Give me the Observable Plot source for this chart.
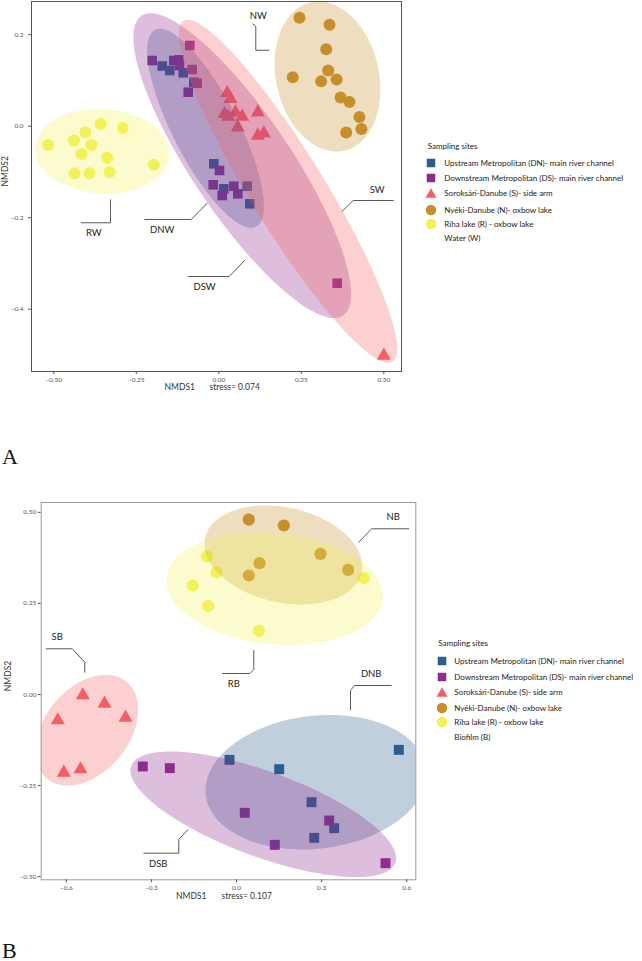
<!DOCTYPE html>
<html><head><meta charset="utf-8">
<script src="https://cdn.jsdelivr.net/npm/d3@7"></script>
<script src="https://cdn.jsdelivr.net/npm/@observablehq/plot@0.6"></script>
<style>
body{margin:0;background:#fff;}
#wrap{position:relative;width:642px;height:961px;overflow:hidden;font-family:Lato,"Open Sans",sans-serif;background:#fff;}
.pl{position:absolute;left:0;}
.letter{position:absolute;left:2px;font-family:"Liberation Serif","DejaVu Serif",serif;font-size:22px;line-height:22px;color:#111;}
.lg{position:absolute;font-size:8px;line-height:10px;color:#222;white-space:nowrap;}
.lg svg{position:absolute;}
</style></head><body><div id="wrap"></div>
<script>
// ---------------- shared categories ----------------
const groups = ["DN", "DS", "S", "N", "R"];
const groupLabels = [
  "Upstream Metropolitan (DN)- main river channel",
  "Downstream Metropolitan (DS)- main river channel",
  "Soroksári-Danube (S)- side arm",
  "Nyéki-Danube (N)- oxbow lake",
  "Riha lake (R) - oxbow lake"
];
const groupSymbols = ["square", "square", "triangle", "circle", "circle"];
const groupColors = ["#2D5D8E", "#8E2C8E", "#F55F63", "#C8902C", "#F3F158"];
const legendTitle = "Sampling sites";

// ---------------- Panel A : Water ----------------
const A_DN_x = [-0.1715, -0.1485, -0.1079, -0.0758, -0.0152, 0.0152, 0.0861, 0.0939];
const A_DN_y = [0.1316, 0.1217, 0.1167, 0.0962, -0.0822, -0.1368, -0.1311, -0.1696];
const A_DS_x = [-0.0879, -0.2018, -0.1364, -0.1212, -0.1191, -0.0806, -0.0655, -0.0927, 0.0021, -0.0170, 0.0103, 0.0455, 0.0576, 0.3588];
const A_DS_y = [0.1764, 0.1436, 0.1436, 0.1451, 0.1327, 0.1239, 0.0940, 0.0743, -0.0968, -0.1281, -0.1515, -0.1311, -0.1478, -0.3432];
const A_S_x = [0.0255, 0.0355, 0.0173, 0.0285, 0.0506, 0.0709, 0.0576, 0.1182, 0.1182, 0.1364, 0.5000];
const A_S_y = [0.0725, 0.0594, 0.0266, 0.0209, 0.0303, 0.0209, -0.0025, 0.0303, -0.0206, -0.0156, -0.5015];
const A_N_x = [0.2445, 0.3355, 0.3255, 0.3315, 0.2240, 0.3100, 0.3570, 0.3690, 0.3960, 0.4260, 0.4320, 0.3860];
const A_N_y = [0.2370, 0.2220, 0.1680, 0.1220, 0.1070, 0.0980, 0.1020, 0.0630, 0.0530, 0.0200, -0.0060, -0.0140];
const A_R_x = [-0.517, -0.439, -0.404, -0.358, -0.291, -0.386, -0.416, -0.338, -0.197, -0.437, -0.392, -0.331];
const A_R_y = [-0.041, -0.031, -0.013, 0.005, -0.004, -0.041, -0.061, -0.069, -0.084, -0.103, -0.103, -0.100];
// ellipses: centre + two conjugate semi-axis vectors (data units), order DN, DS, S, N, R
const A_ell_cx = [-0.0403, 0.0709, 0.2097, 0.3294, -0.3530];
const A_ell_cy = [-0.0046, -0.0863, -0.1423, 0.1086, -0.0547];
const A_ell_ux = [0.1533, 0.3055, 0.3167, 0.0509, 0.2036];
const A_ell_uy = [-0.2151, -0.3277, -0.3725, -0.1620, -0.0090];
const A_ell_vx = [-0.0882, -0.1248, -0.0958, -0.1520, -0.0079];
const A_ell_vy = [-0.0326, -0.0605, -0.0424, -0.0249, -0.0922];
const A_labels = ["NW", "RW", "DNW", "DSW", "SW"];
const A_label_x = [0.1194, -0.3788, -0.1715, -0.0433, 0.4800];
const A_label_y = [0.2420, -0.2330, -0.2264, -0.3504, -0.1384];
const A_lead_x = [[0.1030, 0.1121, 0.1121, 0.1515], [-0.3282, -0.3282, -0.4170], [-0.0352, -0.0836, -0.2242], [0.0779, 0.0315, -0.0927], [0.3739, 0.4073, 0.5285]];
const A_lead_y = [[0.2238, 0.2179, 0.1660, 0.1660], [-0.1609, -0.2111, -0.2111], [-0.1683, -0.2039, -0.2039], [-0.2936, -0.3286, -0.3286], [-0.1858, -0.1624, -0.1624]];
const A_xTicks = [-0.5, -0.25, 0, 0.25, 0.5];
const A_xTickLabels = ["\u22120.50", "\u22120.25", "0.00", "0.25", "0.50"];
const A_yTicks = [0.2, 0, -0.2, -0.4];
const A_yTickLabels = ["0.2", "0.0", "\u22120.2", "\u22120.4"];
const A_xTitle = ["NMDS1", "stress= 0.074"];
const A_yTitle = "NMDS2";
const A_legendNote = "Water (W)";

// ---------------- Panel B : Biofilm ----------------
const B_DN_x = [-0.0247, 0.1505, 0.5722, 0.2644, 0.3443, 0.2738];
const B_DN_y = [-0.1793, -0.2049, -0.1519, -0.2955, -0.3668, -0.3934];
const B_DS_x = [-0.3303, -0.2351, 0.0293, 0.3267, 0.1350, 0.5252];
const B_DS_y = [-0.1976, -0.2021, -0.3247, -0.3458, -0.4126, -0.4630];
const B_S_x = [-0.5418, -0.4653, -0.6299, -0.3913, -0.6087, -0.5499];
const B_S_y = [-0.0021, -0.0251, -0.0708, -0.0635, -0.2145, -0.2053];
const B_N_x = [0.0435, 0.1668, 0.2961, 0.0811, 0.0435, 0.3936];
const B_N_y = [0.4800, 0.4638, 0.3860, 0.3604, 0.3266, 0.3420];
const B_R_x = [-0.1033, -0.0705, -0.1540, -0.0998, 0.0787, 0.4488];
const B_R_y = [0.3787, 0.3357, 0.2991, 0.2434, 0.1747, 0.3192];
const B_ell_cx = [0.2802, 0.0945, -0.5277, 0.1650, 0.1346];
const B_ell_cy = [-0.2407, -0.3288, -0.0980, 0.3828, 0.2909];
const B_ell_ux = [0.3885, 0.4656, 0.1396, 0.2756, 0.3810];
const B_ell_uy = [0.0357, -0.1331, 0.1331, -0.0477, -0.0299];
const B_ell_vx = [0.0275, -0.0518, 0.1153, -0.0363, -0.0197];
const B_ell_vy = [-0.1811, -0.1095, -0.0733, -0.1273, -0.1518];
const B_labels = ["NB", "SB", "RB", "DNB", "DSB"];
const B_label_x = [0.5523, -0.6320, -0.0095, 0.4748, -0.2760];
const B_label_y = [0.4866, 0.1572, 0.0294, 0.0568, -0.4646];
const B_lead_x = [[0.4311, 0.4759, 0.6073], [-0.6708, -0.5791, -0.5347, -0.5347], [0.0610, 0.0610, 0.0469, -0.0504], [0.5453, 0.4159, 0.4018, 0.4018], [-0.1717, -0.2034, -0.2034, -0.3268]];
const B_lead_y = [[0.4180, 0.4547, 0.4547], [0.1254, 0.1254, 0.0886, 0.0612], [0.1207, 0.0686, 0.0576, 0.0576], [0.0247, 0.0247, 0.0110, -0.0420], [-0.3713, -0.3979, -0.4355, -0.4355]];
const B_xTicks = [-0.6, -0.3, 0, 0.3, 0.6];
const B_xTickLabels = ["\u22120.6", "\u22120.3", "0.0", "0.3", "0.6"];
const B_yTicks = [0.5, 0.25, 0, -0.25, -0.5];
const B_yTickLabels = ["0.50", "0.25", "0.00", "\u22120.25", "\u22120.50"];
const B_xTitle = ["NMDS1", "stress= 0.107"];
const B_yTitle = "NMDS2";
const B_legendNote = "Biofilm (B)";

const panelLetters = ["A", "B"];

// ---------------- helpers ----------------
function points(xs, ys) { return xs.map((x, i) => ({x, y: ys[i]})); }
function ellipse(cx, cy, ux, uy, vx, vy) {
  const out = [];
  const n = 120;
  for (let k = 0; k < n; k++) {
    const t = 2 * Math.PI * k / n;
    out.push({x: cx + ux * Math.cos(t) + vx * Math.sin(t), y: cy + uy * Math.cos(t) + vy * Math.sin(t)});
  }
  return out;
}

function panel(cfg) {
  const marks = [];
  cfg.pts.forEach((p, gi) => {
    marks.push(Plot.dot(points(p[0], p[1]), {
      x: "x", y: "y", symbol: groupSymbols[gi], fill: groupColors[gi], stroke: "none",
      r: cfg.r[gi]
    }));
  });
  cfg.ell.cx.forEach((cx, gi) => {
    marks.push(Plot.line(ellipse(cx, cfg.ell.cy[gi], cfg.ell.ux[gi], cfg.ell.uy[gi], cfg.ell.vx[gi], cfg.ell.vy[gi]), {
      x: "x", y: "y", curve: "linear-closed", stroke: "none", fill: groupColors[gi], fillOpacity: 0.3, clip: true
    }));
  });
  const lead = [];
  cfg.leadX.forEach((xs, li) => xs.forEach((x, k) => lead.push({id: li, x, y: cfg.leadY[li][k]})));
  marks.push(Plot.line(lead, {x: "x", y: "y", z: "id", stroke: "#444", strokeWidth: 0.9}));
  marks.push(Plot.text(cfg.labels.map((t, i) => ({t, x: cfg.labelX[i], y: cfg.labelY[i]})), {
    x: "x", y: "y", text: "t", fontSize: 9.5, fill: "#222"
  }));
  marks.push(Plot.frame({stroke: cfg.frame, strokeWidth: 1}));
  const xm = new Map(cfg.xTicks.map((d, i) => [d, cfg.xTickLabels[i]]));
  const ym = new Map(cfg.yTicks.map((d, i) => [d, cfg.yTickLabels[i]]));
  marks.push(Plot.axisX({ticks: cfg.xTicks, tickFormat: d => xm.get(d), tickSize: 3, tickPadding: cfg.xPad, fontSize: 6.5, color: "#555", label: null}));
  marks.push(Plot.axisY({ticks: cfg.yTicks, tickFormat: d => ym.get(d), tickSize: 3, tickPadding: cfg.yPad, fontSize: 6.5, color: "#555", label: null}));
  // x title: "NMDS1" and stress as two pieces around the frame centre
  marks.push(Plot.text([cfg.xTitle[0]], {frameAnchor: "bottom", dy: cfg.xTitleDy, dx: cfg.xTitleDx[0], textAnchor: "end", fontSize: 8.5, fill: "#333"}));
  marks.push(Plot.text([cfg.xTitle[1]], {frameAnchor: "bottom", dy: cfg.xTitleDy, dx: cfg.xTitleDx[1], textAnchor: "start", fontSize: 8.5, fill: "#333"}));
  marks.push(Plot.text([cfg.yTitle], {frameAnchor: "left", dx: cfg.yTitleDx, rotate: -90, fontSize: 8.5, fill: "#333"}));
  return Plot.plot({
    width: 642, height: cfg.height,
    marginLeft: cfg.m[0], marginRight: cfg.m[1], marginTop: cfg.m[2], marginBottom: cfg.m[3],
    x: {domain: cfg.xDomain}, y: {domain: cfg.yDomain},
    style: {fontFamily: "Lato, 'Open Sans', sans-serif", background: "transparent", overflow: "visible"},
    marks
  });
}

const wrap = document.getElementById("wrap");

function addPlot(svg, top) {
  const d = document.createElement("div");
  d.className = "pl"; d.style.top = top + "px";
  d.appendChild(svg); wrap.appendChild(d);
}

function symbolSvg(sym, color, size) {
  const s = size;
  let shape;
  if (sym === "square") shape = `<rect x="${(12 - s) / 2}" y="${(12 - s) / 2}" width="${s}" height="${s}" fill="${color}"/>`;
  else if (sym === "circle") shape = `<circle cx="6" cy="6" r="${s / 2}" fill="${color}"/>`;
  else { const h = s * 0.87; shape = `<polygon points="${6 - s / 2},${6 + h / 2} ${6 + s / 2},${6 + h / 2} 6,${6 - h / 2}" fill="${color}"/>`; }
  return `<svg width="12" height="12" style="left:0;top:-1px">${shape}</svg>`;
}

function addLegend(cfg) {
  const t = document.createElement("div");
  t.className = "lg"; t.style.left = cfg.titleX + "px"; t.style.top = (cfg.titleY - 5) + "px";
  t.textContent = legendTitle; wrap.appendChild(t);
  groups.forEach((g, i) => {
    const r = document.createElement("div");
    r.className = "lg"; r.style.left = (cfg.symX - 6) + "px"; r.style.top = (cfg.rowY[i] - 5) + "px";
    const sizes = [8.5, 8.5, 11, 10.5, 10.5];
    r.innerHTML = symbolSvg(groupSymbols[i], groupColors[i], sizes[i]) +
      `<span style="position:absolute;left:${cfg.textX - cfg.symX + 6}px;top:0">${groupLabels[i]}</span>`;
    wrap.appendChild(r);
  });
  const n = document.createElement("div");
  n.className = "lg"; n.style.left = cfg.textX + "px"; n.style.top = (cfg.noteY - 5) + "px";
  n.textContent = cfg.note; wrap.appendChild(n);
}

// Panel A (frame centre x = 216)
addPlot(panel({
  pts: [[A_DN_x, A_DN_y], [A_DS_x, A_DS_y], [A_S_x, A_S_y], [A_N_x, A_N_y], [A_R_x, A_R_y]],
  r: [5.4, 5.4, 5.2, 6, 6],
  ell: {cx: A_ell_cx, cy: A_ell_cy, ux: A_ell_ux, uy: A_ell_uy, vx: A_ell_vx, vy: A_ell_vy},
  labels: A_labels, labelX: A_label_x, labelY: A_label_y, leadX: A_lead_x, leadY: A_lead_y,
  xTicks: A_xTicks, xTickLabels: A_xTickLabels, yTicks: A_yTicks, yTickLabels: A_yTickLabels,
  xTitle: A_xTitle, yTitle: A_yTitle, xTitleDy: 18, xTitleDx: [-21.5, -7], yTitleDx: -26, xPad: 3, yPad: 5,
  height: 400, m: [31, 241, 1, 29], xDomain: [-0.5676, 0.5536], yDomain: [-0.5362, 0.2726], frame: "#555"
}), 0);

// Panel B (frame centre x = 228)
addPlot(panel({
  pts: [[B_DN_x, B_DN_y], [B_DS_x, B_DS_y], [B_S_x, B_S_y], [B_N_x, B_N_y], [B_R_x, B_R_y]],
  r: [5.6, 5.6, 5.2, 6.1, 6.1],
  ell: {cx: B_ell_cx, cy: B_ell_cy, ux: B_ell_ux, uy: B_ell_uy, vx: B_ell_vx, vy: B_ell_vy},
  labels: B_labels, labelX: B_label_x, labelY: B_label_y, leadX: B_lead_x, leadY: B_lead_y,
  xTicks: B_xTicks, xTickLabels: B_xTickLabels, yTicks: B_yTicks, yTickLabels: B_yTickLabels,
  xTitle: B_xTitle, yTitle: B_yTitle, xTitleDy: 19, xTitleDx: [-22, -7], yTitleDx: -33, xPad: 2.5, yPad: 2,
  height: 430, m: [40.7, 226.7, 22, 30.7], xDomain: [-0.6884, 0.632], yDomain: [-0.5085, 0.5269], frame: "#999"
}), 480);

addLegend({titleX: 427.7, titleY: 145.7, symX: 431, textX: 444.3, rowY: [163.3, 178.3, 193.3, 210, 224.3], noteY: 238.3, note: A_legendNote});
addLegend({titleX: 438.3, titleY: 642.7, symX: 441.7, textX: 454.3, rowY: [661, 676.7, 691.7, 708.3, 721.7], noteY: 736.7, note: B_legendNote});

[[panelLetters[0], 445.5], [panelLetters[1], 939.5]].forEach(([t, top]) => {
  const d = document.createElement("div");
  d.className = "letter"; d.style.top = top + "px"; d.textContent = t; wrap.appendChild(d);
});
</script>
</body></html>
